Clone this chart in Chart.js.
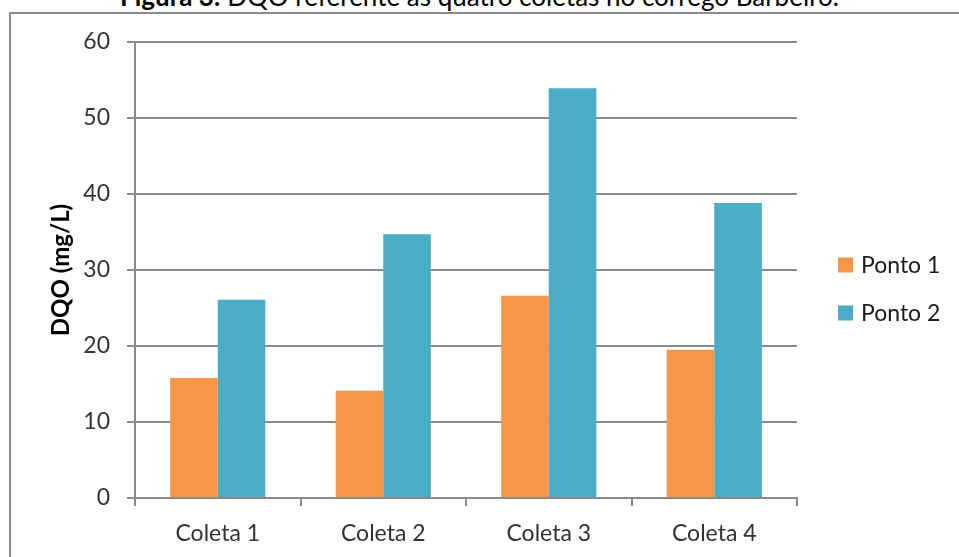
<!DOCTYPE html>
<html>
<head>
<meta charset="utf-8">
<script src="https://cdn.jsdelivr.net/npm/chart.js@4.4.0/dist/chart.umd.min.js"></script>
<style>
body{margin:0;background:#fff;width:959px;height:557px;overflow:hidden;position:relative;font-family:Lato,sans-serif}
#moldura{position:absolute;left:9px;top:12px;width:1000px;height:600px;border-left:2px solid #8c8c8c;border-top:2px solid #8c8c8c}
#titulo{position:absolute;left:0;top:-17px;width:959px;text-align:center;font-size:26px;line-height:26px;color:#000;white-space:nowrap}
#grafico{position:absolute;left:0;top:0}
</style>
</head>
<body>
<div id="titulo"><b>Figura 3:</b> DQO referente às quatro coletas no córrego Barbeiro.</div>
<div id="moldura"></div>
<canvas id="grafico" width="959" height="557"></canvas>
<script>
const coletas = ["Coleta 1", "Coleta 2", "Coleta 3", "Coleta 4"];
const ponto1 = [15.8, 14.1, 26.6, 19.5];
const ponto2 = [26.1, 34.7, 53.9, 38.8];
const yMin = 0, yMax = 60, yPasso = 10;

const cinza = "#8a8a8a";
const fonte = "Lato";

// legenda desenhada a direita, fora da area do grafico
const legenda = {
	id: "legenda",
	afterDraw: chart => {
		let ctx = chart.ctx;
		let x = chart.chartArea.right + 41;
		ctx.save();
		chart.data.datasets.forEach((ds, i) => {
			let y = 265 + i * 48;
			ctx.fillStyle = ds.backgroundColor;
			ctx.fillRect(x, y - 7.5, 15, 15);
			ctx.fillStyle = "#1a1a1a";
			ctx.font = "23px " + fonte;
			ctx.textBaseline = "middle";
			ctx.fillText(ds.label, x + 23, y + 1);
		});
		ctx.restore();
	}
};

new Chart(document.getElementById("grafico"), {
	type: "bar",
	data: {
		labels: coletas,
		datasets: [
			{ label: "Ponto 1", data: ponto1, backgroundColor: "#F79646" },
			{ label: "Ponto 2", data: ponto2, backgroundColor: "#4BACC6" }
		]
	},
	options: {
		responsive: false,
		animation: false,
		categoryPercentage: 0.575,
		barPercentage: 1,
		layout: { padding: { left: 20, top: 42, right: 162, bottom: 0 } },
		plugins: {
			legend: { display: false },
			tooltip: { enabled: false }
		},
		scales: {
			x: {
				grid: { drawOnChartArea: false, color: cinza, lineWidth: 2, tickLength: 8 },
				border: { color: cinza, width: 2 },
				ticks: { color: "#333", padding: 14, font: { family: fonte, size: 23 } },
				afterFit: s => { s.height = 59; }
			},
			y: {
				min: yMin,
				max: yMax,
				ticks: { stepSize: yPasso, color: "#333", padding: 17, font: { family: fonte, size: 23 } },
				grid: { color: cinza, lineWidth: 2, tickLength: 8 },
				border: { color: cinza, width: 2 },
				title: {
					display: true,
					text: "DQO (mg/L)",
					color: "#000",
					font: { family: fonte, size: 24, weight: "bold" },
					padding: { top: 27, bottom: 0 }
				},
				afterFit: s => { s.width = 115; }
			}
		}
	},
	plugins: [legenda]
});
</script>
</body>
</html>
